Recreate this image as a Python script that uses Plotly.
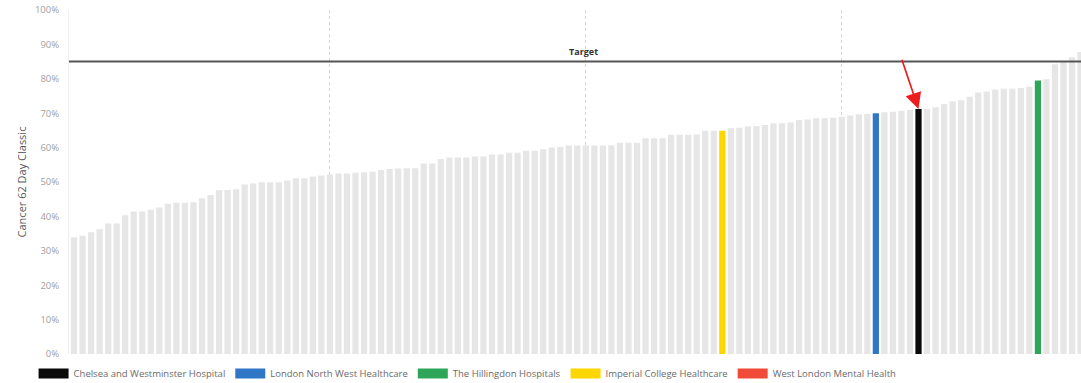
import plotly.graph_objects as go

# Cancer 62 Day Classic performance by trust, sorted ascending (fraction of patients)
performance = [
    0.339, 0.344, 0.354, 0.363, 0.379, 0.379, 0.403, 0.414, 0.414, 0.419,
    0.426, 0.437, 0.440, 0.440, 0.441, 0.453, 0.462, 0.476, 0.477, 0.479,
    0.493, 0.496, 0.499, 0.499, 0.499, 0.504, 0.511, 0.511, 0.516, 0.519,
    0.522, 0.525, 0.525, 0.527, 0.528, 0.530, 0.535, 0.538, 0.539, 0.540,
    0.540, 0.554, 0.554, 0.567, 0.571, 0.571, 0.571, 0.574, 0.574, 0.580,
    0.580, 0.585, 0.585, 0.591, 0.591, 0.595, 0.600, 0.602, 0.606, 0.606,
    0.606, 0.606, 0.606, 0.607, 0.614, 0.614, 0.614, 0.627, 0.627, 0.627,
    0.637, 0.637, 0.637, 0.638, 0.649, 0.649, 0.649, 0.656, 0.658, 0.661,
    0.662, 0.666, 0.671, 0.671, 0.673, 0.680, 0.682, 0.685, 0.685, 0.687,
    0.690, 0.693, 0.697, 0.698, 0.700, 0.703, 0.704, 0.707, 0.709, 0.712,
    0.712, 0.717, 0.727, 0.734, 0.738, 0.748, 0.760, 0.763, 0.769, 0.771,
    0.771, 0.773, 0.777, 0.795, 0.799, 0.842, 0.848, 0.863, 0.878,
]
rank = list(range(len(performance)))

# Highlighted trusts: name, colour, position in the ranking (None = no bar)
trust_names = [
    "Chelsea and Westminster Hospital",
    "London North West Healthcare",
    "The Hillingdon Hospitals",
    "Imperial College Healthcare",
    "West London Mental Health",
]
trust_colors = ["#0a0a0a", "#2f77c6", "#2ea65a", "#ffd600", "#f04a38"]
trust_rank = [99, 94, 113, 76, None]

target = 0.85
target_label = "Target"
focus_name = "Chelsea and Westminster Hospital"

axis_title = "Cancer 62 Day Classic"
y_ticks = [i / 10 for i in range(11)]
y_tick_text = [f"{i * 10}%" for i in range(11)]

grey = "#e6e6e6"
bar_colors = [grey] * len(performance)
for color, pos in zip(trust_colors, trust_rank):
    if pos is not None:
        bar_colors[pos] = color

font_family = "Open Sans, DejaVu Sans, sans-serif"

fig = go.Figure()
fig.add_trace(go.Bar(
    x=rank, y=performance, marker=dict(color=bar_colors, line=dict(width=0)),
    showlegend=False, hovertemplate="%{y:.1%}<extra></extra>",
))

# Legend entries drawn as wide colour swatches
for name, color in zip(trust_names, trust_colors):
    fig.add_trace(go.Scatter(
        x=[None], y=[None], mode="lines", name=name,
        line=dict(color=color, width=10),
    ))

# Target line
fig.add_shape(type="line", xref="paper", x0=0, x1=1, yref="y", y0=target, y1=target,
              line=dict(color="#555555", width=2), layer="above")
fig.add_annotation(x=59.7, y=target, text=f"<b>{target_label}</b>", showarrow=False,
                   yanchor="bottom", yshift=2, font=dict(size=9, color="#333333", family=font_family))

# Arrow pointing at the focus trust
focus_pos = trust_rank[trust_names.index(focus_name)]
fig.add_annotation(
    x=focus_pos, y=performance[focus_pos], ax=97.0, ay=target + 0.01,
    xref="x", yref="y", axref="x", ayref="y", text="",
    showarrow=True, arrowhead=2, arrowsize=1.9, arrowwidth=1.7, arrowcolor="#ee1c1c",
    standoff=0,
)

fig.update_layout(
    width=1081, height=383,
    margin=dict(l=69, r=0, t=10, b=29, autoexpand=False),
    paper_bgcolor="white", plot_bgcolor="white",
    bargap=0.27,
    font=dict(family=font_family),
    legend=dict(
        orientation="h", x=-0.035, xanchor="left", y=-0.0145, yanchor="top",
        font=dict(size=9.5, color="#6a6a6a"), itemwidth=30, tracegroupgap=0,
    ),
    xaxis=dict(
        range=[-0.59, 118.05], tickmode="array", tickvals=[30, 60, 90],
        showticklabels=False, ticks="", showgrid=True, gridcolor="#d4d4d4",
        griddash="dot", gridwidth=1, zeroline=False, showline=False,
    ),
    yaxis=dict(
        range=[0, 1], tickmode="array", tickvals=y_ticks, ticktext=y_tick_text,
        showgrid=False, zeroline=False, showline=True, linecolor="#eeeeee", linewidth=1,
        ticks="", ticklabelstandoff=7,
        tickfont=dict(size=9.5, color="#a0a0a0"),
        title=dict(text=axis_title, font=dict(size=11, color="#5a5a5a"), standoff=6),
    ),
)

fig.write_html("out.html")
